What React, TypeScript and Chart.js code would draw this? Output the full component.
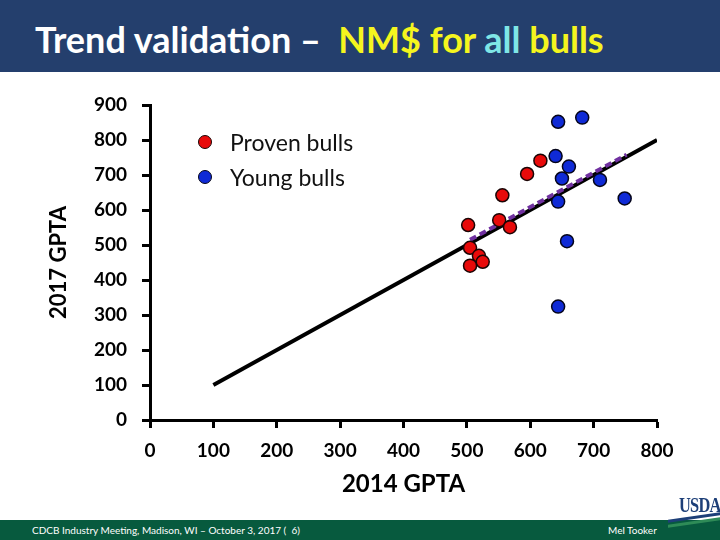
import React, { useEffect, useRef } from "react";
import { Chart, registerables } from "chart.js";

Chart.register(...registerables);

// ---- data ----
const provenX = [502, 505, 519, 525, 505, 551, 568, 556, 595, 616];
const provenY = [557, 492, 469, 452, 441, 571, 551, 642, 703, 741];
const youngX = [644, 682, 640, 661, 650, 710, 644, 749, 658, 644];
const youngY = [852, 864, 754, 724, 690, 686, 624, 633, 511, 324];
const equalityX = [100, 800];
const equalityY = [100, 800];
const fitX = [505, 752];
const fitY = [515, 758];
const xTicks = [0, 100, 200, 300, 400, 500, 600, 700, 800];
const yTicks = [0, 100, 200, 300, 400, 500, 600, 700, 800, 900];
const seriesNames = ["Proven bulls", "Young bulls"];

const RED = "#e80a0a";
const BLUE = "#0f2ad6";
const FONT = "Lato, 'Open Sans', sans-serif";

const pts = (xs: number[], ys: number[]) => xs.map((x, i) => ({ x, y: ys[i] }));

export default function App() {
  const ref = useRef<HTMLCanvasElement | null>(null);

  useEffect(() => {
    document.body.style.margin = "0";
    if (!ref.current) return;
    const chart = new Chart(ref.current, {
      type: "scatter",
      data: {
        datasets: [
          {
            label: seriesNames[0],
            data: pts(provenX, provenY),
            backgroundColor: RED,
            borderColor: "#1a0505",
            borderWidth: 1.5,
            pointRadius: 6.5,
            showLine: false,
          },
          {
            label: seriesNames[1],
            data: pts(youngX, youngY),
            backgroundColor: BLUE,
            borderColor: "#05051a",
            borderWidth: 1.5,
            pointRadius: 6.5,
            showLine: false,
          },
          {
            label: "Trend",
            data: pts(fitX, fitY),
            showLine: true,
            borderColor: "#7030a0",
            borderWidth: 4,
            borderDash: [7, 4],
            pointRadius: 0,
          },
          {
            label: "1:1",
            data: pts(equalityX, equalityY),
            showLine: true,
            borderColor: "#000000",
            borderWidth: 4,
            pointRadius: 0,
          },
        ],
      },
      options: {
        animation: false,
        responsive: false,
        layout: { padding: { top: 33, right: 63, bottom: 0, left: 0 } },
        plugins: { legend: { display: false }, tooltip: { enabled: false } },
        scales: {
          x: {
            type: "linear",
            min: 0,
            max: 800,
            afterFit: (s: any) => {
              s.height = 100;
            },
            afterBuildTicks: (s: any) => {
              s.ticks = xTicks.map((v) => ({ value: v }));
            },
            ticks: {
              color: "#000",
              padding: 11,
              font: { family: FONT, size: 19, weight: "bold" },
            },
            grid: {
              drawOnChartArea: false,
              drawTicks: true,
              tickLength: 8,
              tickWidth: 3,
              tickColor: "#000",
            },
            border: { color: "#000", width: 3 },
            title: {
              display: true,
              text: "2014 GPTA",
              color: "#000",
              font: { family: FONT, size: 24, weight: "bold" },
              padding: { top: 0, bottom: 21 },
            },
          },
          y: {
            type: "linear",
            min: 0,
            max: 900,
            afterFit: (s: any) => {
              s.width = 150;
            },
            afterBuildTicks: (s: any) => {
              s.ticks = yTicks.map((v) => ({ value: v }));
            },
            ticks: {
              color: "#000",
              padding: 15,
              font: { family: FONT, size: 19, weight: "bold" },
            },
            grid: {
              drawOnChartArea: false,
              drawTicks: true,
              tickLength: 8,
              tickWidth: 3,
              tickColor: "#000",
            },
            border: { color: "#000", width: 3 },
            title: {
              display: true,
              text: "2017 GPTA",
              color: "#000",
              font: { family: FONT, size: 22, weight: "bold" },
              padding: { top: 46, bottom: 0 },
            },
          },
        },
      },
    } as any);
    return () => chart.destroy();
  }, []);

  const legendItem = (color: string, border: string, label: string, top: number) => (
    <div
      style={{
        position: "absolute",
        left: 198,
        top: top - 14,
        height: 28,
        display: "flex",
        alignItems: "center",
      }}
    >
      <span
        style={{
          width: 12,
          height: 12,
          borderRadius: "50%",
          background: color,
          border: `1.5px solid ${border}`,
          display: "inline-block",
        }}
      />
      <span
        style={{
          marginLeft: 18,
          fontFamily: FONT,
          fontSize: 23,
          color: "#111",
          whiteSpace: "nowrap",
        }}
      >
        {label}
      </span>
    </div>
  );

  return (
    <div
      style={{
        position: "fixed",
        left: 0,
        top: 0,
        width: 720,
        height: 540,
        background: "#fff",
        overflow: "hidden",
      }}
    >
      <div
        style={{
          position: "absolute",
          left: 0,
          top: 0,
          width: 720,
          height: 72,
          background: "#243f6d",
        }}
      />
      <div
        style={{
          position: "absolute",
          left: 35,
          top: 17,
          fontFamily: FONT,
          fontWeight: 700,
          fontSize: 36,
          lineHeight: "44px",
          whiteSpace: "pre",
          color: "#fff",
        }}
      >
        <span>Trend validation –  </span>
        <span style={{ color: "#f5f51e" }}>NM$ for </span>
        <span style={{ color: "#7fe6e6" }}>all</span>
        <span style={{ color: "#f5f51e" }}> bulls</span>
      </div>

      <canvas
        ref={ref}
        width={720}
        height={448}
        style={{ position: "absolute", left: 0, top: 72, width: 720, height: 448 }}
      />

      {legendItem(RED, "#1a0505", seriesNames[0], 142)}
      {legendItem(BLUE, "#05051a", seriesNames[1], 177)}

      <div
        style={{
          position: "absolute",
          left: 0,
          top: 520,
          width: 720,
          height: 20,
          background: "#075a3e",
        }}
      />
      <div
        style={{
          position: "absolute",
          left: 32,
          top: 522,
          fontFamily: FONT,
          fontSize: 10,
          lineHeight: "16px",
          color: "#fff",
          whiteSpace: "pre",
        }}
      >
        CDCB Industry Meeting, Madison, WI – October 3, 2017 (  6)
      </div>
      <div
        style={{
          position: "absolute",
          left: 608,
          top: 522,
          fontFamily: FONT,
          fontSize: 10,
          lineHeight: "16px",
          color: "#fff",
          whiteSpace: "pre",
        }}
      >
        Mel Tooker
      </div>
      <div
        style={{
          position: "absolute",
          left: 679,
          top: 494,
          fontFamily: "'Liberation Serif', serif",
          fontWeight: 700,
          fontSize: 21,
          lineHeight: "22px",
          color: "#1d3f78",
          letterSpacing: -1,
          whiteSpace: "nowrap",
          transform: "scaleX(0.78)",
          transformOrigin: "left top",
        }}
      >
        USDA
      </div>
      <div
        style={{
          position: "absolute",
          left: 668,
          top: 516,
          width: 52,
          height: 3,
          background: "#1d3f78",
          transform: "skewY(-8deg)",
        }}
      />
      <div
        style={{
          position: "absolute",
          left: 668,
          top: 521,
          width: 52,
          height: 3,
          background: "#2e8b57",
          transform: "skewY(-8deg)",
        }}
      />
    </div>
  );
}
